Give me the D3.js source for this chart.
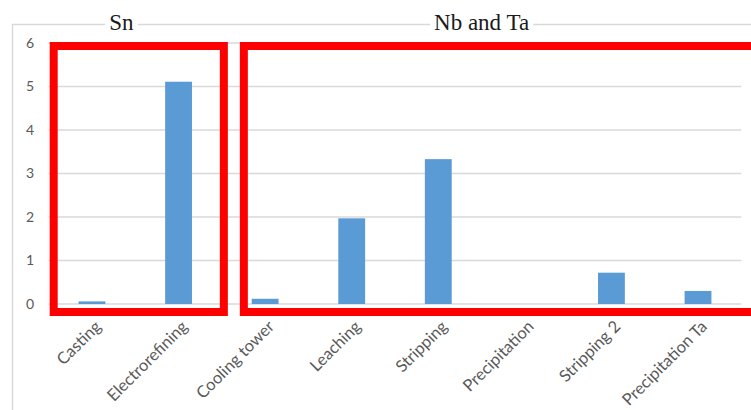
<!DOCTYPE html>
<html>
<head>
<meta charset="utf-8">
<script src="https://cdn.jsdelivr.net/npm/d3@7/dist/d3.min.js"></script>
<style>
  html, body { margin: 0; padding: 0; background: #fff; }
  svg { display: block; }
</style>
</head>
<body>
<svg id="chart" width="751" height="410"></svg>
<script>
// Process steps and their values
const categories = ["Casting", "Electrorefining", "Cooling tower", "Leaching", "Stripping", "Precipitation", "Stripping 2", "Precipitation Ta"];
const values = [0.06, 5.11, 0.12, 1.97, 3.33, 0, 0.72, 0.30];
const yTicks = [0, 1, 2, 3, 4, 5, 6];

// Metal groups: name, first and last step index
const groupNames = ["Sn", "Nb and Ta"];
const groupFirst = [0, 2];
const groupLast = [1, 7];

const W = 751, H = 410;
const svg = d3.select("#chart");

const x = d3.scaleBand().domain(categories).range([48.7, 741.3]).paddingInner(0.69).paddingOuter(0.345);
const y = d3.scaleLinear().domain([0, 6]).range([304, 43]);

const grey = "#d9d9d9";
const labelFont = "Lato, 'Open Sans', sans-serif";

// Outer chart frame
svg.append("rect")
  .attr("x", 12.5).attr("y", 24.5)
  .attr("width", W + 20).attr("height", H + 20)
  .attr("fill", "none").attr("stroke", grey).attr("stroke-width", 1.5);

// Gridlines
svg.append("g").selectAll("line").data(yTicks).join("line")
  .attr("x1", x.range()[0]).attr("x2", x.range()[1])
  .attr("y1", d => y(d)).attr("y2", d => y(d))
  .attr("stroke", grey).attr("stroke-width", 1.5);

// Y axis labels
const yAxis = d3.axisLeft(y).tickValues(yTicks).tickFormat(d3.format("d")).tickSize(0).tickPadding(0);
const gy = svg.append("g").attr("transform", "translate(34,0)").call(yAxis);
gy.select(".domain").remove();
gy.selectAll("text")
  .attr("fill", "#595959").attr("font-size", 14).attr("font-family", labelFont);

// Bars
svg.append("g").selectAll("rect").data(values).join("rect")
  .attr("x", (d, i) => x(categories[i]))
  .attr("width", x.bandwidth())
  .attr("y", d => y(d))
  .attr("height", d => y(0) - y(d))
  .attr("fill", "#5b9bd5");

// Category labels, slanted
const xAxis = d3.axisBottom(x).tickSize(0).tickPadding(0);
const gx = svg.append("g").attr("transform", `translate(0,${y(0)})`).call(xAxis);
gx.select(".domain").remove();
gx.selectAll("text")
  .attr("fill", "#595959").attr("font-size", 16.5).attr("font-family", labelFont)
  .attr("text-anchor", "end").attr("dy", null)
  .attr("transform", "translate(10,23.6) rotate(-45)");

// Group boxes
const step = x.step();
const boxes = svg.append("g");
groupNames.forEach((name, gi) => {
  const left = gi === 0 ? x(categories[groupFirst[gi]]) - step * x.paddingOuter() + 5
                        : x(categories[groupFirst[gi]]) - step * 0.345 + 22;
  const right = gi === 0 ? x(categories[groupLast[gi]]) + x.bandwidth() + step * 0.345 + 2 : W + 30;
  boxes.append("rect")
    .attr("x", left).attr("y", y(6) + 3)
    .attr("width", right - left).attr("height", y(0) + 8 - (y(6) + 3))
    .attr("fill", "none").attr("stroke", "#ff0000").attr("stroke-width", 8);
});

// Group titles sitting on the frame
const titles = svg.append("g");
groupNames.forEach((name, gi) => {
  const c1 = x(categories[groupFirst[gi]]) + x.bandwidth() / 2;
  const c2 = x(categories[groupLast[gi]]) + x.bandwidth() / 2;
  const cx = (c1 + c2) / 2 + (gi === 0 ? -14 : 0);
  const t = titles.append("text")
    .attr("x", cx).attr("y", 30)
    .attr("text-anchor", "middle")
    .attr("font-family", "'Liberation Serif', 'Times New Roman', serif")
    .attr("font-size", 23).attr("fill", "#1a1a1a")
    .text(name);
  const bb = t.node().getBBox();
  titles.insert("rect", "text")
    .attr("x", bb.x - 4).attr("y", 20).attr("width", bb.width + 8).attr("height", 10)
    .attr("fill", "#fff");
});
</script>
</body>
</html>
